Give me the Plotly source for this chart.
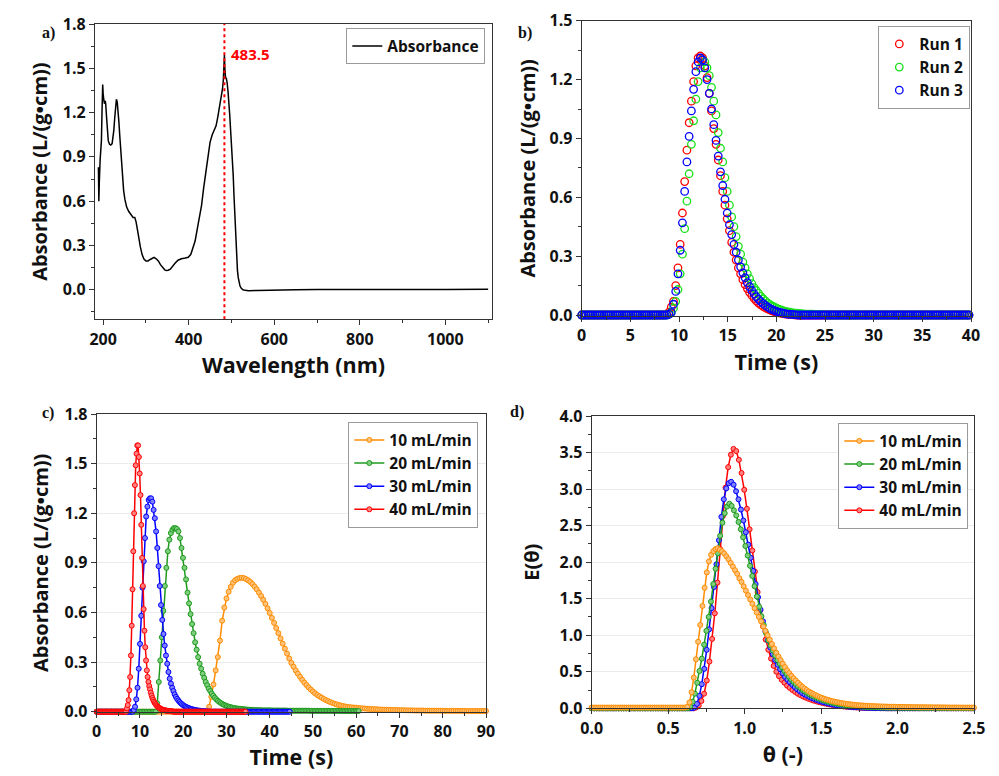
import plotly.graph_objects as go

# a) absorbance spectrum
wavelength = [
    189, 190, 191, 193, 194, 196, 197.5, 199, 200, 201,
    203, 205, 206, 208, 210, 212, 215, 218, 221, 223,
    225, 227, 229, 231, 233, 235, 237, 239, 241, 243,
    245, 248, 251, 255, 260, 266, 270, 274, 277, 280,
    283, 287, 291, 295, 300, 305, 310, 315, 319, 324,
    329, 334, 339, 344, 348, 352, 357, 362, 368, 375,
    383, 392, 399, 405, 410, 415, 420, 425, 430, 435,
    440, 445, 450, 455, 460, 464, 468, 472, 476, 479,
    481, 482.5, 483.5, 484.5, 486, 488, 490, 492, 494, 496,
    498, 500, 502, 504, 506, 508, 510, 512, 514, 516,
    518, 520, 523, 527, 532, 540, 560, 580, 600, 650,
    700, 750, 800, 850, 900, 950, 1000, 1050, 1100,
]
absorbance = [
    0.83, 0.60, 0.72, 0.88, 0.94, 1.01, 1.22, 1.39, 1.33, 1.30,
    1.26, 1.28, 1.26, 1.17, 1.07, 1.01, 0.985, 0.98, 0.99, 1.03,
    1.08, 1.16, 1.24, 1.29, 1.27, 1.22, 1.13, 1.04, 0.94, 0.84,
    0.76, 0.67, 0.61, 0.56, 0.53, 0.50, 0.49, 0.49, 0.46, 0.41,
    0.35, 0.29, 0.24, 0.21, 0.195, 0.195, 0.205, 0.215, 0.22, 0.21,
    0.195, 0.17, 0.15, 0.135, 0.13, 0.132, 0.14, 0.16, 0.18, 0.20,
    0.21, 0.215, 0.22, 0.24, 0.28, 0.33, 0.41, 0.48, 0.57, 0.69,
    0.80, 0.91, 1.00, 1.05, 1.08, 1.11, 1.17, 1.23, 1.30, 1.36,
    1.42, 1.48, 1.59, 1.50, 1.44, 1.43, 1.40, 1.34, 1.28, 1.18,
    1.08, 1.00, 0.88, 0.78, 0.63, 0.49, 0.35, 0.21, 0.13, 0.08,
    0.045, 0.025, 0.01, 0.0, -0.004, -0.006, -0.005, -0.003, -0.001, 0.0,
    0.001, 0.0, 0.001, 0.001, 0.0, 0.001, 0.002, 0.001, 0.003,
]
peak_nm = 483.5

# b) three repeat runs, one sample every 0.23 s from t = 0
run_step = 0.23
run_1 = [
    0, 0, 0, 0, 0, 0, 0, 0, 0, 0,
    0, 0, 0, 0, 0, 0, 0, 0, 0, 0,
    0, 0, 0, 0, 0, 0, 0, 0, 0, 0,
    0, 0, 0, 0, 0, 0, 0, 0,
    0.005, 0.015, 0.04, 0.07, 0.15, 0.24, 0.36, 0.52, 0.68, 0.84,
    0.98, 1.09, 1.19, 1.27, 1.31, 1.32, 1.31, 1.27, 1.21, 1.13,
    1.04, 0.95, 0.87, 0.79, 0.71, 0.63, 0.56, 0.49, 0.43, 0.37,
    0.32, 0.28, 0.24, 0.21, 0.18, 0.155, 0.135, 0.115, 0.10, 0.085,
    0.072, 0.061, 0.052, 0.044, 0.037, 0.031, 0.026, 0.021, 0.017, 0.014,
    0.011, 0.009, 0.007, 0.005, 0.004, 0.003, 0.002, 0.001,
    0, 0, 0, 0, 0, 0, 0, 0, 0, 0,
    0, 0, 0, 0, 0, 0, 0, 0, 0, 0,
    0, 0, 0, 0, 0, 0, 0, 0, 0, 0,
    0, 0, 0, 0, 0, 0, 0, 0, 0, 0,
    0, 0, 0, 0, 0, 0, 0, 0, 0, 0,
    0, 0, 0, 0, 0, 0, 0, 0, 0, 0,
    0, 0, 0, 0, 0, 0, 0, 0, 0, 0,
    0, 0, 0, 0, 0, 0, 0, 0,
]
run_2 = [
    0, 0, 0, 0, 0, 0, 0, 0, 0, 0,
    0, 0, 0, 0, 0, 0, 0, 0, 0, 0,
    0, 0, 0, 0, 0, 0, 0, 0, 0, 0,
    0, 0, 0, 0, 0, 0, 0, 0, 0,
    0.005, 0.015, 0.035, 0.07, 0.13, 0.21, 0.31, 0.44, 0.58, 0.72,
    0.87, 0.99, 1.10, 1.19, 1.26, 1.30, 1.29, 1.26, 1.22, 1.16,
    1.09, 1.02, 0.93, 0.85, 0.78, 0.70, 0.63, 0.56, 0.50, 0.45,
    0.40, 0.35, 0.31, 0.27, 0.24, 0.21, 0.185, 0.16, 0.14, 0.125,
    0.11, 0.095, 0.083, 0.072, 0.062, 0.054, 0.047, 0.041, 0.035, 0.030,
    0.026, 0.022, 0.019, 0.016, 0.014, 0.012, 0.010, 0.009, 0.008, 0.007,
    0.006, 0.005, 0.005, 0.004, 0.004, 0.003, 0.003, 0.002, 0.002, 0.002, 0.001,
    0, 0, 0, 0, 0, 0, 0, 0, 0, 0,
    0, 0, 0, 0, 0, 0, 0, 0, 0, 0,
    0, 0, 0, 0, 0, 0, 0, 0, 0, 0,
    0, 0, 0, 0, 0, 0, 0, 0, 0, 0,
    0, 0, 0, 0, 0, 0, 0, 0, 0, 0,
    0, 0, 0, 0, 0, 0, 0, 0, 0, 0,
    0, 0, 0, 0,
]
run_3 = [
    0, 0, 0, 0, 0, 0, 0, 0, 0, 0,
    0, 0, 0, 0, 0, 0, 0, 0, 0, 0,
    0, 0, 0, 0, 0, 0, 0, 0, 0, 0,
    0, 0, 0, 0, 0, 0, 0, 0, 0,
    0.003, 0.012, 0.055, 0.12, 0.21, 0.33, 0.47, 0.63, 0.78, 0.91,
    1.04, 1.15, 1.24, 1.29, 1.31, 1.30, 1.26, 1.20, 1.13, 1.05,
    0.97, 0.89, 0.81, 0.73, 0.66, 0.59, 0.52, 0.46, 0.41, 0.36,
    0.32, 0.28, 0.245, 0.215, 0.19, 0.165, 0.145, 0.125, 0.108, 0.093,
    0.080, 0.068, 0.058, 0.049, 0.041, 0.034, 0.028, 0.023, 0.019, 0.015,
    0.012, 0.009, 0.007, 0.005, 0.004, 0.003, 0.002, 0.001,
    0, 0, 0, 0, 0, 0, 0, 0, 0, 0,
    0, 0, 0, 0, 0, 0, 0, 0, 0, 0,
    0, 0, 0, 0, 0, 0, 0, 0, 0, 0,
    0, 0, 0, 0, 0, 0, 0, 0, 0, 0,
    0, 0, 0, 0, 0, 0, 0, 0, 0, 0,
    0, 0, 0, 0, 0, 0, 0, 0, 0, 0,
    0, 0, 0, 0, 0, 0, 0, 0, 0, 0,
    0, 0, 0, 0, 0, 0, 0,
]

# c) absorbance vs time at four flow rates, each with its own sample step (s)
flow_labels = ["10 mL/min", "20 mL/min", "30 mL/min", "40 mL/min"]
time_step = [0.5, 0.35, 0.286, 0.184]
abs_10 = [
    0, 0, 0, 0, 0, 0, 0, 0, 0, 0,
    0, 0, 0, 0, 0, 0, 0, 0, 0, 0,
    0, 0, 0, 0, 0, 0, 0, 0, 0, 0,
    0, 0, 0, 0, 0, 0, 0, 0, 0, 0,
    0, 0, 0, 0, 0, 0, 0, 0, 0, 0,
    0, 0,
    0.03, 0.09, 0.165, 0.25, 0.33, 0.43, 0.55, 0.63, 0.685, 0.725,
    0.755, 0.78, 0.795, 0.803, 0.808, 0.81, 0.808, 0.802, 0.795, 0.785,
    0.772, 0.757, 0.74, 0.72, 0.70, 0.677, 0.652, 0.625, 0.597, 0.567,
    0.537, 0.506, 0.475, 0.443, 0.412, 0.381, 0.351, 0.322, 0.295, 0.272,
    0.25, 0.23, 0.211, 0.193, 0.176, 0.161, 0.147, 0.134, 0.122, 0.111,
    0.101, 0.093, 0.085, 0.077, 0.070, 0.064, 0.058, 0.053, 0.048, 0.044,
    0.040, 0.037, 0.034, 0.031, 0.029, 0.027, 0.026, 0.025, 0.024, 0.022,
    0.021, 0.020, 0.019, 0.018, 0.017, 0.016, 0.015, 0.015, 0.014, 0.013,
    0.013, 0.012, 0.012, 0.011, 0.011, 0.010, 0.010, 0.010, 0.009, 0.009,
    0.009, 0.008, 0.008, 0.008, 0.008, 0.007, 0.007, 0.007, 0.007, 0.007,
    0.006, 0.006, 0.006, 0.006, 0.006, 0.006, 0.006, 0.006, 0.006, 0.005,
    0.005, 0.005, 0.005, 0.005, 0.005, 0.005, 0.005, 0.005, 0.005, 0.004,
    0.004, 0.004, 0.004, 0.004, 0.004, 0.004, 0.004, 0.004, 0.004,
]
abs_20 = [
    0, 0, 0, 0, 0, 0, 0, 0, 0, 0,
    0, 0, 0, 0, 0, 0, 0, 0, 0, 0,
    0, 0, 0, 0, 0, 0, 0, 0, 0, 0,
    0, 0, 0, 0, 0, 0, 0, 0, 0, 0,
    0.05, 0.18, 0.31, 0.45, 0.61, 0.76, 0.87, 0.97, 1.04, 1.08,
    1.10, 1.11, 1.11, 1.105, 1.09, 1.05, 0.99, 0.93, 0.87, 0.80,
    0.72, 0.655, 0.59, 0.53, 0.475, 0.42, 0.375, 0.33, 0.29, 0.26,
    0.23, 0.205, 0.18, 0.16, 0.14, 0.125, 0.11, 0.097, 0.085, 0.075,
    0.066, 0.059, 0.052, 0.047, 0.042, 0.038, 0.034, 0.031, 0.028, 0.026,
    0.024, 0.022, 0.020, 0.019, 0.018, 0.017, 0.016, 0.015, 0.014, 0.013,
    0.012, 0.012, 0.011, 0.011, 0.010, 0.010, 0.009, 0.009, 0.009, 0.008,
    0.008, 0.008, 0.008, 0.008, 0.008, 0.008, 0.007, 0.007, 0.007, 0.007,
    0.007, 0.007, 0.007, 0.007, 0.007, 0.007, 0.006, 0.006, 0.006, 0.006,
    0.006, 0.006, 0.006, 0.006, 0.006, 0.006, 0.006, 0.006, 0.006, 0.006,
    0.006, 0.005, 0.005, 0.005, 0.005, 0.005, 0.005, 0.005, 0.005, 0.005,
    0.005, 0.005, 0.005, 0.005, 0.005, 0.005, 0.005, 0.005, 0.005, 0.005,
    0.005, 0.004, 0.004, 0.004, 0.004, 0.004, 0.004, 0.004, 0.004, 0.004,
    0.004, 0.004, 0.004, 0.004,
]
abs_30 = [
    0, 0, 0, 0, 0, 0, 0, 0, 0, 0,
    0, 0, 0, 0, 0, 0, 0, 0, 0, 0,
    0, 0, 0, 0, 0, 0, 0, 0, 0, 0,
    0.01, 0.03, 0.075, 0.145, 0.26, 0.41, 0.58, 0.75, 0.91, 1.05,
    1.18, 1.24, 1.28, 1.29, 1.29, 1.27, 1.22, 1.17, 1.09, 0.99,
    0.88, 0.76, 0.645, 0.555, 0.47, 0.40, 0.34, 0.29, 0.24, 0.20,
    0.17, 0.145, 0.125, 0.105, 0.09, 0.078, 0.068, 0.059, 0.051, 0.045,
    0.039, 0.034, 0.030, 0.026, 0.023, 0.020, 0.017, 0.015, 0.013, 0.011,
    0.010, 0.008, 0.007, 0.006, 0.005, 0.004, 0.003, 0.003, 0.002, 0.002,
    0.001,
    0, 0, 0, 0, 0, 0, 0, 0, 0, 0,
    0, 0, 0, 0, 0, 0, 0, 0, 0, 0,
    0, 0, 0, 0, 0, 0, 0, 0, 0, 0,
    0, 0, 0, 0, 0, 0, 0, 0, 0, 0,
    0, 0, 0, 0, 0, 0, 0, 0, 0, 0,
    0, 0, 0, 0, 0, 0, 0, 0, 0, 0,
    0, 0, 0, 0, 0, 0,
]
abs_40 = [
    0, 0, 0, 0, 0, 0, 0, 0, 0, 0,
    0, 0, 0, 0, 0, 0, 0, 0, 0, 0,
    0, 0, 0, 0, 0, 0, 0, 0, 0, 0,
    0, 0, 0, 0, 0, 0, 0, 0,
    0.02, 0.04, 0.07, 0.13, 0.21, 0.34, 0.52, 0.74, 0.97, 1.20,
    1.37, 1.49, 1.56, 1.61, 1.61, 1.54, 1.44, 1.31, 1.13, 0.93,
    0.76, 0.62, 0.49, 0.39, 0.31, 0.25, 0.21, 0.18, 0.155, 0.135,
    0.115, 0.098, 0.083, 0.071, 0.061, 0.052, 0.045, 0.039, 0.034, 0.029,
    0.025, 0.022, 0.019, 0.016, 0.014, 0.012, 0.010, 0.009, 0.008, 0.007,
    0.006, 0.005, 0.004, 0.004, 0.003, 0.003, 0.002, 0.002, 0.001,
    0, 0, 0, 0, 0, 0, 0, 0, 0, 0,
    0, 0, 0, 0, 0, 0, 0, 0, 0, 0,
    0, 0, 0, 0, 0, 0, 0, 0, 0, 0,
    0, 0, 0, 0, 0, 0, 0, 0, 0, 0,
    0, 0, 0, 0, 0, 0, 0, 0, 0, 0,
    0, 0, 0, 0, 0, 0, 0, 0, 0, 0,
    0, 0, 0, 0, 0, 0, 0, 0, 0, 0,
    0, 0, 0, 0, 0, 0, 0, 0, 0, 0,
    0, 0, 0, 0, 0, 0, 0, 0, 0, 0,
    0,
]

# d) E(theta) for the same flow rates, each with its own theta step
theta_step = [0.0142, 0.015, 0.016, 0.0175]
e_10 = [
    0.01, 0.01, 0.01, 0.01, 0.01, 0.01, 0.01, 0.01, 0.01, 0.01,
    0.01, 0.01, 0.01, 0.01, 0.01, 0.01, 0.01, 0.01, 0.01, 0.01,
    0.01, 0.01, 0.01, 0.01, 0.01, 0.01, 0.01, 0.01, 0.01, 0.01,
    0.01, 0.01, 0.01, 0.01, 0.01, 0.01, 0.01, 0.01, 0.01, 0.01,
    0.01, 0.01, 0.01, 0.01,
    0.02, 0.08, 0.22, 0.42, 0.67, 0.91, 1.14, 1.40, 1.65, 1.86,
    2.01, 2.10, 2.15, 2.18, 2.19, 2.17, 2.15, 2.12, 2.08, 2.04,
    1.99, 1.94, 1.89, 1.84, 1.78, 1.73, 1.67, 1.61, 1.55, 1.49,
    1.43, 1.37, 1.31, 1.25, 1.19, 1.12, 1.06, 1.00, 0.94, 0.88,
    0.82, 0.76, 0.71, 0.66, 0.61, 0.565, 0.52, 0.48, 0.445, 0.41,
    0.38, 0.35, 0.32, 0.295, 0.272, 0.25, 0.23, 0.213, 0.197, 0.182,
    0.168, 0.155, 0.143, 0.132, 0.122, 0.113, 0.105, 0.097, 0.090, 0.084,
    0.078, 0.072, 0.067, 0.062, 0.058, 0.054, 0.051, 0.048, 0.045, 0.042,
    0.040, 0.038, 0.036, 0.034, 0.032, 0.031, 0.029, 0.028, 0.027, 0.026,
    0.025, 0.024, 0.023, 0.022, 0.021, 0.021, 0.020, 0.020, 0.019, 0.019,
    0.018, 0.018, 0.017, 0.017, 0.016, 0.016, 0.016, 0.015, 0.015, 0.015,
    0.014, 0.014, 0.014, 0.013, 0.013, 0.013, 0.013, 0.012, 0.012, 0.012,
    0.012, 0.011, 0.011, 0.011, 0.011, 0.011, 0.010, 0.010, 0.010, 0.010,
    0.010, 0.010, 0.010,
]
e_20 = [
    0, 0, 0, 0, 0, 0, 0, 0, 0, 0,
    0, 0, 0, 0, 0, 0, 0, 0, 0, 0,
    0, 0, 0, 0, 0, 0, 0, 0, 0, 0,
    0, 0, 0, 0, 0, 0, 0, 0, 0, 0,
    0, 0, 0,
    0.02, 0.09, 0.20, 0.35, 0.51, 0.68, 0.87, 1.06, 1.25, 1.46,
    1.70, 1.91, 2.12, 2.36, 2.54, 2.67, 2.76, 2.80, 2.77, 2.71,
    2.64, 2.55, 2.45, 2.34, 2.22, 2.09, 1.95, 1.81, 1.67, 1.53,
    1.39, 1.26, 1.14, 1.03, 0.93, 0.86, 0.79, 0.72, 0.66, 0.61,
    0.56, 0.51, 0.47, 0.43, 0.39, 0.36, 0.33, 0.30, 0.275, 0.25,
    0.23, 0.21, 0.19, 0.175, 0.16, 0.145, 0.133, 0.121, 0.11, 0.10,
    0.091, 0.083, 0.076, 0.069, 0.063, 0.057, 0.052, 0.047, 0.043, 0.039,
    0.035, 0.032, 0.029, 0.026, 0.024, 0.022, 0.020, 0.018, 0.016, 0.015,
    0.014, 0.013, 0.012, 0.011, 0.010, 0.009, 0.009, 0.008, 0.008, 0.007,
    0.007, 0.007, 0.007, 0.007, 0.006, 0.006, 0.006, 0.006, 0.006, 0.006,
    0.005, 0.005, 0.005, 0.005, 0.005, 0.005, 0.004, 0.004, 0.004, 0.004,
    0.004, 0.004, 0.003, 0.003, 0.003, 0.003, 0.003, 0.003, 0.002, 0.002,
    0.002, 0.002, 0.002, 0.002,
]
e_30 = [
    0, 0, 0, 0, 0, 0, 0, 0, 0, 0,
    0, 0, 0, 0, 0, 0, 0, 0, 0, 0,
    0, 0, 0, 0, 0, 0, 0, 0, 0, 0,
    0, 0, 0, 0, 0, 0, 0, 0, 0, 0,
    0, 0,
    0.01, 0.06, 0.17, 0.33, 0.54, 0.80, 1.08, 1.37, 1.66, 1.97,
    2.30, 2.62, 2.86, 3.01, 3.08, 3.10, 3.06, 2.97, 2.86, 2.72,
    2.57, 2.41, 2.24, 2.06, 1.88, 1.70, 1.52, 1.35, 1.19, 1.05,
    0.93, 0.83, 0.74, 0.66, 0.595, 0.535, 0.48, 0.43, 0.39, 0.355,
    0.32, 0.29, 0.26, 0.235, 0.21, 0.19, 0.172, 0.155, 0.14, 0.126,
    0.113, 0.101, 0.09, 0.08, 0.071, 0.063, 0.056, 0.049, 0.043, 0.038,
    0.033, 0.029, 0.025, 0.022, 0.019, 0.016, 0.014, 0.012, 0.010, 0.008,
    0.007, 0.006, 0.005, 0.004, 0.003, 0.003, 0.002, 0.002, 0.001,
    0, 0, 0, 0, 0, 0, 0, 0, 0, 0,
    0, 0, 0, 0, 0, 0, 0, 0, 0, 0,
    0, 0, 0, 0, 0, 0, 0, 0, 0, 0,
    0, 0, 0, 0, 0, 0,
]
e_40 = [
    0, 0, 0, 0, 0, 0, 0, 0, 0, 0,
    0, 0, 0, 0, 0, 0, 0, 0, 0, 0,
    0, 0, 0, 0, 0, 0, 0, 0, 0, 0,
    0, 0, 0, 0, 0, 0, 0, 0, 0,
    0.01, 0.04, 0.10, 0.20, 0.38, 0.64, 0.95, 1.30, 1.72, 2.18,
    2.63, 3.02, 3.30, 3.47, 3.55, 3.52, 3.40, 3.22, 2.99, 2.73,
    2.45, 2.16, 1.87, 1.59, 1.34, 1.12, 0.94, 0.80, 0.68, 0.58,
    0.50, 0.44, 0.39, 0.35, 0.31, 0.28, 0.25, 0.225, 0.20, 0.18,
    0.16, 0.145, 0.13, 0.117, 0.105, 0.094, 0.084, 0.075, 0.067, 0.059,
    0.052, 0.046, 0.040, 0.035, 0.030, 0.026, 0.022, 0.019, 0.016, 0.013,
    0.011, 0.009, 0.007, 0.006, 0.005, 0.004, 0.003, 0.002, 0.002, 0.001,
    0, 0, 0, 0, 0, 0, 0, 0, 0, 0,
    0, 0, 0, 0, 0, 0, 0, 0, 0, 0,
    0, 0, 0, 0, 0, 0, 0, 0, 0, 0,
    0, 0, 0, 0,
]

line_colors = ["#ff8c00", "#1e9a1e", "#0000ff", "#ff0000"]
fill_colors = ["#ffc27a", "#7fcf7f", "#8080ff", "#ff8080"]
run_colors = ["#ff0000", "#19e019", "#0000ff"]

ink = "#111111"
tick_font = dict(family="Open Sans", size=16, color=ink, weight="bold")
title_font = dict(family="Open Sans", size=20, color=ink, weight="bold")
xtitle_font = dict(family="Open Sans", size=21.5, color=ink, weight="bold")
legend_font = dict(family="Open Sans", size=15.5, color=ink, weight="bold")

# the page puts the figure 8 px in from the top-left corner
W, H, OFF = 991, 768, 8


def fx(p):
    return (p - OFF) / W


def fy(p):
    return 1 - (p - OFF) / H


fig = go.Figure()

fig.add_trace(go.Scatter(
    x=wavelength, y=absorbance, mode="lines", name="Absorbance", showlegend=True,
    line=dict(color="black", width=1.5), xaxis="x", yaxis="y", legend="legend",
))

for name, vals, col in zip(["Run 1", "Run 2", "Run 3"], [run_1, run_2, run_3], run_colors):
    fig.add_trace(go.Scatter(
        x0=0, dx=run_step, y=vals, mode="markers", name=name,
        marker=dict(symbol="circle-open", size=7.5, color=col, line=dict(width=1.3)),
        xaxis="x2", yaxis="y2", legend="legend2", cliponaxis=False,
    ))

c_series = [abs_10, abs_20, abs_30, abs_40]
for i in range(4):
    fig.add_trace(go.Scatter(
        x0=0, dx=time_step[i], y=c_series[i], mode="lines+markers", name=flow_labels[i],
        line=dict(color=line_colors[i], width=1.5),
        marker=dict(symbol="circle", size=5, color=fill_colors[i],
                    line=dict(color=line_colors[i], width=1)),
        xaxis="x3", yaxis="y3", legend="legend3", cliponaxis=False,
    ))

# 10 mL/min sits on top in panel d, so draw it last
d_series = [e_10, e_20, e_30, e_40]
for i in [3, 2, 1, 0]:
    fig.add_trace(go.Scatter(
        x0=0, dx=theta_step[i], y=d_series[i], mode="lines+markers", name=flow_labels[i],
        line=dict(color=line_colors[i], width=1.5),
        marker=dict(symbol="circle", size=5, color=fill_colors[i],
                    line=dict(color=line_colors[i], width=1)),
        xaxis="x4", yaxis="y4", legend="legend4", legendrank=i + 1, cliponaxis=False,
    ))


def axis(domain, anchor, rng, dtick, minor, title, standoff, fmt=None, grid=False, tfont=title_font):
    return dict(
        domain=domain, anchor=anchor, range=rng, dtick=dtick, tick0=0,
        showline=True, linecolor="#333333", linewidth=1.3, mirror=True,
        ticks="outside", ticklen=5, tickwidth=1.3, tickcolor="#333333",
        minor=dict(dtick=minor, ticks="outside", ticklen=3, tickwidth=1.1,
                   tickcolor="#333333", showgrid=False),
        tickfont=tick_font, tickformat=fmt, zeroline=False,
        showgrid=grid, gridcolor="#ebebeb", gridwidth=1,
        title=dict(text=title, font=tfont, standoff=standoff),
    )


def box(x, y):
    return dict(x=fx(x), y=fy(y), xanchor="left", yanchor="top", bgcolor="white",
                bordercolor="#9a9a9a", borderwidth=1.3, font=legend_font,
                itemwidth=30, tracegroupgap=0, visible=True)


ylab = "Absorbance (L/(g•cm))"
fig.update_layout(
    width=W, height=H, template="none", showlegend=True,
    margin=dict(l=0, r=0, t=0, b=0),
    paper_bgcolor="white", plot_bgcolor="white",
    xaxis=axis([fx(95), fx(492)], "y", [181, 1109], 200, 100, "Wavelength (nm)", 9, tfont=xtitle_font),
    yaxis=axis([fy(319.3), fy(24)], "x", [-0.2, 1.8], 0.3, 0.15, ylab, 9, ".1f"),
    xaxis2=axis([fx(581.7), fx(971)], "y2", [0, 40], 5, 2.5, "Time (s)", 9, tfont=xtitle_font),
    yaxis2=axis([fy(316), fy(20.7)], "x2", [-0.005, 1.5], 0.3, 0.15, ylab, 8, ".1f"),
    xaxis3=axis([fx(96.7), fx(486)], "y3", [0, 90], 10, 5, "Time (s)", 8, tfont=xtitle_font),
    yaxis3=axis([fy(711.7), fy(414)], "x3", [0, 1.8], 0.3, 0.15, ylab, 10, ".1f", True),
    xaxis4=axis([fx(591.7), fx(974)], "y4", [0, 2.5], 0.5, 0.25, "θ (-)", 9, ".1f", tfont=xtitle_font),
    yaxis4=axis([fy(708.3), fy(416)], "x4", [0, 4], 0.5, 0.25, "E(θ)", 14, ".1f", True),
    legend=box(346, 28),
    legend2=box(878, 26),
    legend3=box(348, 422),
    legend4=box(838, 423),
)

fig.add_shape(type="line", xref="x", yref="y", x0=peak_nm, x1=peak_nm, y0=-0.2, y1=1.8,
              line=dict(color="#ff0000", width=2, dash="dot"))
fig.add_annotation(xref="x", yref="y", x=peak_nm, y=1.60, xshift=5, text=str(peak_nm),
                   showarrow=False, xanchor="left", yanchor="middle",
                   font=dict(family="Open Sans", size=15, color="#ff0000", weight="bold"))

panel_font = dict(family="Liberation Serif", size=16, color=ink, weight="bold")
for label, px, py in [("a)", 40, 22), ("b)", 525, 22), ("c)", 40, 413), ("d)", 517, 412)]:
    fig.add_annotation(xref="paper", yref="paper", x=fx(px), y=fy(py), text=label,
                       showarrow=False, font=panel_font)

fig.write_html("out.html")
